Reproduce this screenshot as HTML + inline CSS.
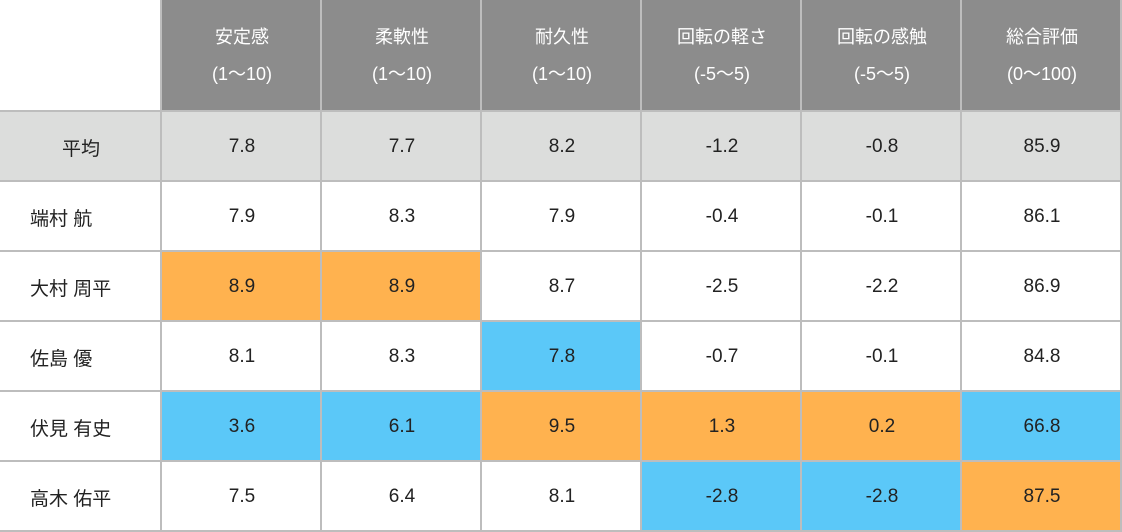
<!DOCTYPE html>
<html><head><meta charset="utf-8"><style>
body{margin:0;width:1122px;height:532px;background:#fff;position:relative;overflow:hidden;font-family:"Liberation Sans","Noto Sans CJK JP",sans-serif;}
.c{position:absolute;box-sizing:border-box;display:flex;align-items:center;justify-content:center;font-size:19px;color:#222;}
.h{background:#8c8c8c;color:#fff;flex-direction:column;font-size:18px;line-height:37px;border-left:2px solid #bdbdbd;}
.b{border-left:2px solid #bdbdbd;border-top:2px solid #bdbdbd;}
.n{border-top:2px solid #bdbdbd;justify-content:flex-start;padding-left:30px;}
.o{background:#ffb24f}.u{background:#5bc8f8}.a{background:#dcdddc}
</style></head><body>
<div id="t"></div>
<div style="position:absolute;left:0;top:530px;width:1122px;height:2px;background:#bdbdbd"></div>
<div style="position:absolute;left:1120px;top:0;width:2px;height:532px;background:#bdbdbd"></div>
<script>
const headers=[["安定感","(1〜10)"],["柔軟性","(1〜10)"],["耐久性","(1〜10)"],["回転の軽さ","(-5〜5)"],["回転の感触","(-5〜5)"],["総合評価","(0〜100)"]];
const names=["平均","端村 航","大村 周平","佐島 優","伏見 有史","高木 佑平"];
const values=[["7.8","7.7","8.2","-1.2","-0.8","85.9"],["7.9","8.3","7.9","-0.4","-0.1","86.1"],["8.9","8.9","8.7","-2.5","-2.2","86.9"],["8.1","8.3","7.8","-0.7","-0.1","84.8"],["3.6","6.1","9.5","1.3","0.2","66.8"],["7.5","6.4","8.1","-2.8","-2.8","87.5"]];
const marks=[["","","","","",""],["","","","","",""],["o","o","","","",""],["","","u","","",""],["u","u","o","o","o","u"],["","","","u","u","o"]];
const t=document.getElementById('t');
headers.forEach((h,i)=>{const d=document.createElement('div');


d.className='c h';d.style.cssText=`left:${160+160*i}px;top:0;width:162px;height:112px`;
d.innerHTML=`<span>${h[0]}</span><span>${h[1]}</span>`;t.appendChild(d);});
names.forEach((n,j)=>{const top=110+70*j;const d=document.createElement('div');


d.className='c n'+(j==0?' a':'');d.style.cssText=`left:0;top:${top}px;width:162px;height:72px;`+(j==0?'justify-content:center;padding-left:0':'');
d.textContent=n;t.appendChild(d);
values[j].forEach((v,i)=>{const e=document.createElement('div');


e.className='c b '+(j==0?'a':marks[j][i]);e.style.cssText=`left:${160+160*i}px;top:${top}px;width:162px;height:72px`;
e.textContent=v;t.appendChild(e);});});
</script></body></html>
